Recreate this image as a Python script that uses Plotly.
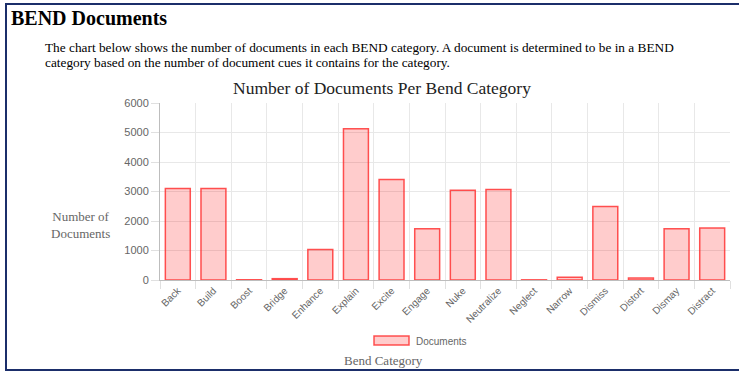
import plotly.graph_objects as go

categories = ["Back", "Build", "Boost", "Bridge", "Enhance", "Explain", "Excite", "Engage",
              "Nuke", "Neutralize", "Neglect", "Narrow", "Dismiss", "Distort", "Dismay", "Distract"]
documents = [3100, 3100, 8, 45, 1030, 5130, 3410, 1740,
             3045, 3068, 6, 91, 2490, 68, 1740, 1760]
y_ticks = [0, 1000, 2000, 3000, 4000, 5000, 6000]

W, H = 739, 372
L, R, T, B = 160, 9, 103, 92
PW, PH = W - L - R, H - T - B


def px(x):
    return (x - L) / PW


def py(y):
    return 1 - (y - T) / PH


fig = go.Figure()
fig.add_trace(go.Bar(
    x=categories, y=documents, name="Documents",
    marker=dict(color="rgba(255,0,0,0.2)", line=dict(color="rgba(255,40,40,0.8)", width=1.5)),
    showlegend=False,
))

serif = "Liberation Serif, Times New Roman, serif"
sans = "Liberation Sans, Arial, sans-serif"


def note(x, y, text, size, color, family, xanchor="left", align="left"):
    return dict(x=px(x), y=py(y), xref="paper", yref="paper", text=text, showarrow=False,
                xanchor=xanchor, yanchor="middle", align=align,
                font=dict(family=family, size=size, color=color))


annotations = [
    note(9, 18, "<b>BEND Documents</b>", 20, "#000", serif),
    note(43, 47.5, "The chart below shows the number of documents in each BEND category. "
         "A document is determined to be in a BEND", 13.3, "#000", serif),
    note(43, 62.5, "category based on the number of document cues it contains for the category.",
         13.3, "#000", serif),
    note(382, 88, "Number of Documents Per Bend Category", 17.5, "#222", serif, "center", "center"),
    note(80, 225, "Number of<br>Documents", 13, "#666", serif, "center", "center"),
    note(383, 360, "Bend Category", 13, "#666", serif, "center", "center"),
    note(414, 341, "Documents", 10, "#666", sans),
]

shapes = [
    # page frame
    dict(type="rect", xref="paper", yref="paper", x0=px(6), x1=px(748), y0=py(4), y1=py(370),
         line=dict(color="#1b2e6a", width=2), fillcolor="rgba(0,0,0,0)", layer="above"),
    # legend swatch
    dict(type="rect", xref="paper", yref="paper", x0=px(374), x1=px(409), y0=py(336), y1=py(345),
         line=dict(color="rgba(255,40,40,0.8)", width=1.5), fillcolor="rgba(255,0,0,0.2)"),
]

fig.update_layout(
    width=W, height=H,
    margin=dict(l=L, r=R, t=T, b=B),
    paper_bgcolor="white", plot_bgcolor="white",
    bargap=0.3,
    annotations=annotations,
    shapes=shapes,
    xaxis=dict(
        type="category", tickson="boundaries", ticks="outside", ticklen=8, tickcolor="#e0e0e0",
        showgrid=True, gridcolor="#e8e8e8", gridwidth=1,
        showline=True, linecolor="#bdbdbd", linewidth=1,
        tickangle=-45, tickfont=dict(family=sans, size=10, color="#666"),
    ),
    yaxis=dict(
        range=[0, 6000], tickvals=y_ticks, ticks="outside", ticklen=8, tickcolor="#e0e0e0",
        showgrid=True, gridcolor="#e8e8e8", gridwidth=1, zeroline=False,
        showline=True, linecolor="#bdbdbd", linewidth=1,
        tickfont=dict(family=sans, size=11, color="#666"),
    ),
)

fig.write_html("out.html")
